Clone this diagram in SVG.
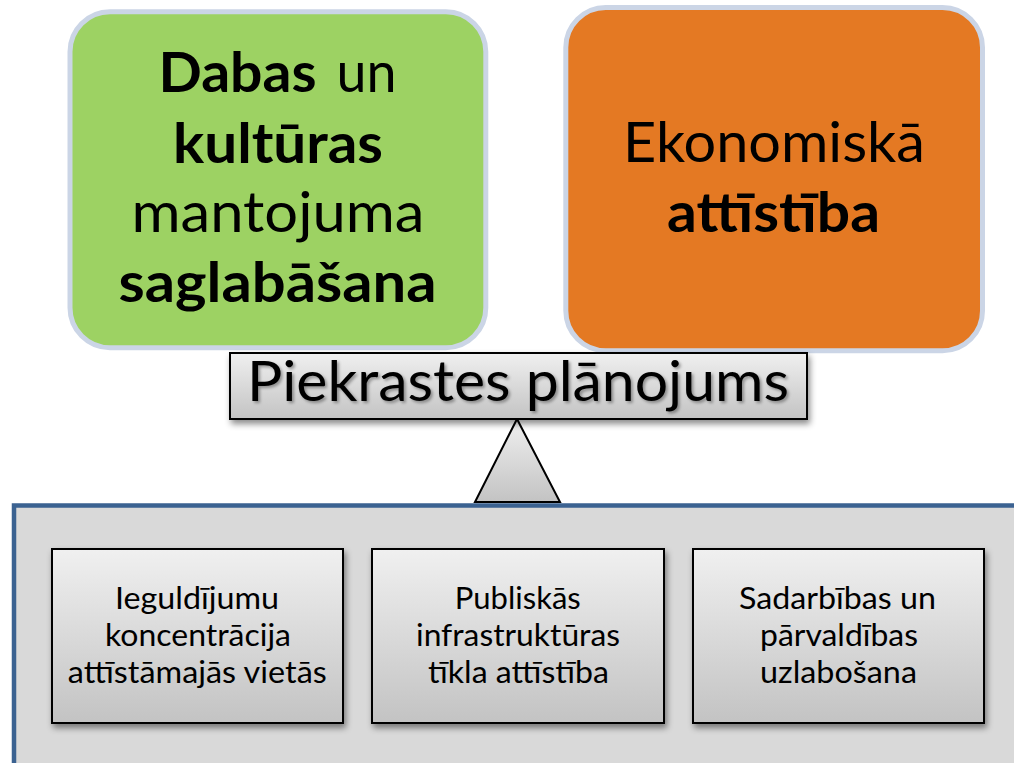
<svg xmlns="http://www.w3.org/2000/svg" width="1014" height="763" viewBox="0 0 1014 763">
  <defs>
    <linearGradient id="gGray" x1="0" y1="0" x2="0" y2="1">
      <stop offset="0" stop-color="#f0f0f0"/>
      <stop offset="1" stop-color="#c3c3c3"/>
    </linearGradient>
    <filter id="shadow" x="-10%" y="-10%" width="125%" height="130%">
      <feDropShadow dx="2" dy="4" stdDeviation="3" flood-color="#000" flood-opacity="0.45"/>
    </filter>
    <filter id="tshadow" x="-5%" y="-20%" width="115%" height="150%">
      <feDropShadow dx="2" dy="2" stdDeviation="1.5" flood-color="#000" flood-opacity="0.35"/>
    </filter>
  </defs>
  <style>
    .big { font-family: Lato, "Open Sans", "Liberation Sans", sans-serif; font-size: 56px; fill: #000; }
    .c { text-anchor: middle; }
    .b { font-weight: bold; }
    .title { font-family: Lato, "Open Sans", "Liberation Sans", sans-serif; font-size: 57px; fill: #000; text-anchor: middle; }
    .small { font-family: Lato, "Open Sans", "Liberation Sans", sans-serif; font-size: 31px; fill: #000; text-anchor: middle; }
    .grayBox { fill: url(#gGray); stroke: #000; stroke-width: 2; }
    .topBox { stroke: #cbd5e6; stroke-width: 5; }
  </style>
  <rect width="1014" height="763" fill="#ffffff"/>

  <g id="heritage">
    <rect class="topBox" x="70" y="11.7" width="415.8" height="336" rx="40" ry="40" fill="#9dd263"/>
    <text class="big b" x="158.5" y="92" textLength="158" lengthAdjust="spacingAndGlyphs">Dabas</text>
    <text class="big" x="336.5" y="92" textLength="60" lengthAdjust="spacingAndGlyphs">un</text>
    <text class="big b c" x="278" y="163" textLength="210" lengthAdjust="spacingAndGlyphs">kultūras</text>
    <text class="big c" x="278" y="232" textLength="293" lengthAdjust="spacingAndGlyphs">mantojuma</text>
    <text class="big b c" x="277.5" y="302" textLength="318" lengthAdjust="spacingAndGlyphs">saglabāšana</text>
  </g>

  <g id="economy">
    <rect class="topBox" x="565.8" y="7.5" width="416.7" height="343.2" rx="40" ry="40" fill="#e47923"/>
    <text class="big c" x="774" y="162" textLength="302" lengthAdjust="spacingAndGlyphs">Ekonomiskā</text>
    <text class="big b c" x="773.5" y="232" textLength="213" lengthAdjust="spacingAndGlyphs">attīstība</text>
  </g>

  <g id="base">
    <rect x="14" y="505.5" width="1010" height="270" fill="#d9d9d9" stroke="#3b6291" stroke-width="4.5"/>
  </g>

  <g id="fulcrum">
    <polygon points="517,419 475,502 560,502" fill="url(#gGray)" stroke="#000" stroke-width="2" stroke-linejoin="miter"/>
  </g>

  <g id="plan">
    <rect class="grayBox" x="230" y="353" width="577" height="66" filter="url(#shadow)"/>
    <text class="title" x="518" y="401" textLength="542" lengthAdjust="spacingAndGlyphs" filter="url(#tshadow)">Piekrastes plānojums</text>
  </g>

  <g id="investment">
    <rect class="grayBox" x="52" y="549" width="291" height="174" filter="url(#shadow)"/>
    <text class="small" x="197" y="609" textLength="164" lengthAdjust="spacingAndGlyphs">Ieguldījumu</text>
    <text class="small" x="198" y="646" textLength="186" lengthAdjust="spacingAndGlyphs">koncentrācija</text>
    <text class="small" x="197.3" y="683" textLength="259" lengthAdjust="spacingAndGlyphs">attīstāmajās vietās</text>
  </g>

  <g id="infrastructure">
    <rect class="grayBox" x="372" y="549" width="292" height="174" filter="url(#shadow)"/>
    <text class="small" x="517.8" y="609" textLength="126" lengthAdjust="spacingAndGlyphs">Publiskās</text>
    <text class="small" x="518" y="646" textLength="204" lengthAdjust="spacingAndGlyphs">infrastruktūras</text>
    <text class="small" x="518.5" y="683" textLength="181" lengthAdjust="spacingAndGlyphs">tīkla attīstība</text>
  </g>

  <g id="cooperation">
    <rect class="grayBox" x="693" y="549" width="291" height="174" filter="url(#shadow)"/>
    <text class="small" x="837.5" y="609" textLength="197" lengthAdjust="spacingAndGlyphs">Sadarbības un</text>
    <text class="small" x="839" y="646" textLength="158" lengthAdjust="spacingAndGlyphs">pārvaldības</text>
    <text class="small" x="838.5" y="683" textLength="157" lengthAdjust="spacingAndGlyphs">uzlabošana</text>
  </g>
</svg>
